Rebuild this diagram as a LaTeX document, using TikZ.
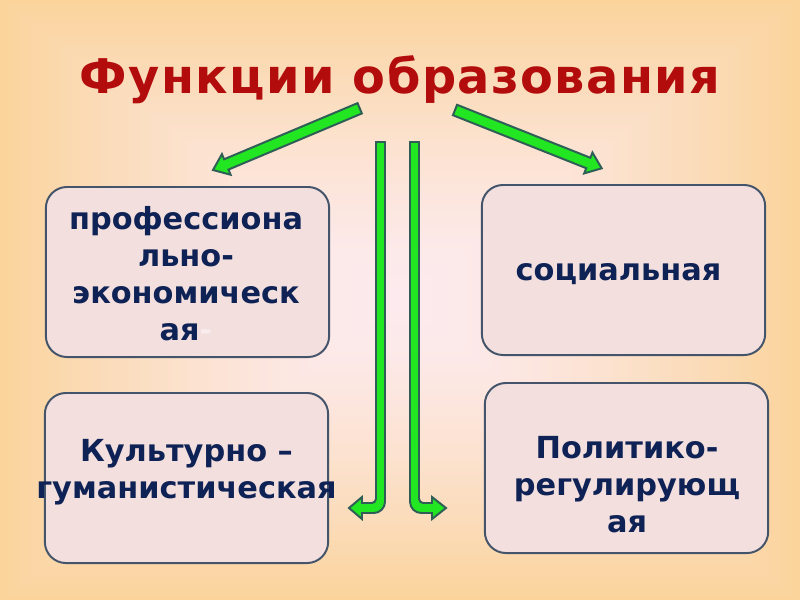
\documentclass[tikz,border=0pt]{standalone}
\usepackage{fontspec}
\setmainfont{DejaVu Sans}
\usetikzlibrary{calc}

\definecolor{titelrot}{HTML}{B20C0C}
\definecolor{textblau}{HTML}{0F2255}
\definecolor{kastenrand}{HTML}{44546A}
\definecolor{kastenfill}{HTML}{F3E0DE}
\definecolor{gruen}{HTML}{22E622}
\definecolor{gruenrand}{HTML}{2E5E55}
\definecolor{bgmitte}{HTML}{FCEAEE}
\definecolor{bgrand}{HTML}{FBD49C}
\definecolor{blass}{HTML}{F8ECEE}

\tikzset{
  kasten/.style={draw=kastenrand,line width=1.4pt,fill=kastenfill,rounded corners=15pt,
    minimum width=7.08cm,minimum height=4.25cm,inner sep=0pt},
  ktext/.style={text=textblau,font=\bfseries\fontsize{21.6}{26.3}\selectfont,align=center,inner sep=0pt},
  gpfeil/.style={fill=gruen,draw=gruenrand,line width=1.4pt}
}

\begin{document}
\begin{tikzpicture}[x=0.025cm,y=-0.025cm]
\def\strelka#1#2{\coordinate (hb) at ($(#2)!0.36cm!(#1)$);
  \draw[gpfeil] ($(#1)!0.14cm!90:(#2)$) -- ($(hb)!0.14cm!-90:(#1)$) -- ($(hb)!0.28cm!-90:(#1)$)
    -- (#2) -- ($(hb)!0.28cm!90:(#1)$) -- ($(hb)!0.14cm!90:(#1)$) -- ($(#1)!0.14cm!-90:(#2)$) -- cycle;}
\useasboundingbox (0,0) rectangle (800,600);

% hintergrund
\foreach \i in {0,...,59}{
  \pgfmathtruncatemacro\p{100*((60-\i)/60)^1.5}
  \fill[bgrand!\p!bgmitte] (\i*6.667,\i*5) rectangle (800-\i*6.667,600-\i*5);
}

\node[anchor=base,text=titelrot,font=\bfseries\fontsize{34}{38}\selectfont\addfontfeature{LetterSpace=3}] at (400,93) (titel) {Функции образования};

\node[kasten] at (187.5,272) (prof) {};
\node[kasten] at (186.5,478) (kult) {};
\node[kasten] at (623.5,270) (sozi) {};
\node[kasten] at (626.5,468) (poli) {};

\node[ktext] at (186,274) (proftext) {профессиона\\льно-\\экономическ\\ая{\color{blass}-}};
\node[ktext] at (186.5,472) (kulttext) {Культурно –\\гуманистическая};
\node[ktext,anchor=base] at (618.5,280) (sozitext) {социальная};
\node[ktext] at (627,485) (politext) {Политико-\\регулирующ\\ая};

% titel -> links, titel -> rechts
\coordinate (l1) at (359.7,108.3); \coordinate (l2) at (213,170);
\coordinate (r1) at (455,110);     \coordinate (r2) at (601.7,168.3);
\strelka{l1}{l2}
\strelka{r1}{r2}

% senkrecht nach unten, dann zur seite
\draw[gpfeil] (376,142) [rounded corners=3pt] -- (376,503) [sharp corners] -- (362,503) -- (362,497) -- (349,508)
  -- (362,519) -- (362,513) [rounded corners=8pt] -- (385,513) [sharp corners] -- (385,142) -- cycle;
\draw[gpfeil] (419,142) [rounded corners=3pt] -- (419,503) [sharp corners] -- (432,503) -- (432,497) -- (446,508)
  -- (432,519) -- (432,513) [rounded corners=8pt] -- (410,513) [sharp corners] -- (410,142) -- cycle;
\end{tikzpicture}
\end{document}
